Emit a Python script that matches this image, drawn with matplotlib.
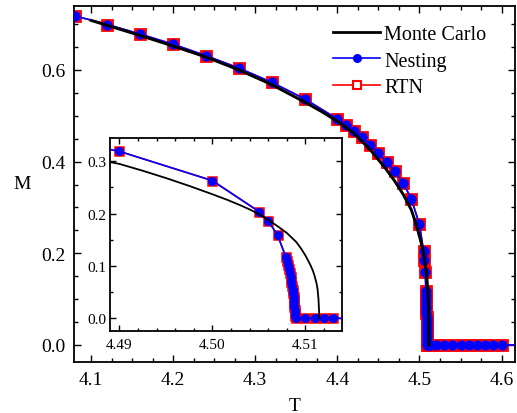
import matplotlib
matplotlib.use("Agg")
import matplotlib.pyplot as plt
from matplotlib.lines import Line2D
from matplotlib.ticker import MultipleLocator

plt.rcParams["font.family"] = ["Liberation Serif", "DejaVu Serif"]

# ---------------------------------------------------------------------------
# Data
# ---------------------------------------------------------------------------
# Monte Carlo magnetisation
mc_t = [4.10, 4.12, 4.16, 4.20, 4.24, 4.28, 4.32, 4.36, 4.38, 4.40, 4.42,
        4.44, 4.46, 4.47, 4.48, 4.49, 4.4925, 4.495, 4.4975, 4.50, 4.5015,
        4.503, 4.504, 4.505, 4.506, 4.507, 4.508, 4.509, 4.5095, 4.510,
        4.5105, 4.5108, 4.511, 4.5112, 4.5113, 4.5114, 4.5115]
mc_m = [0.708, 0.697, 0.675, 0.652, 0.628, 0.600, 0.568, 0.530, 0.510, 0.488,
        0.462, 0.426, 0.382, 0.357, 0.329, 0.295, 0.282, 0.268, 0.253, 0.237,
        0.227, 0.216, 0.208, 0.199, 0.188, 0.176, 0.163, 0.146, 0.134, 0.120,
        0.103, 0.091, 0.080, 0.066, 0.056, 0.037, 0.0]

# Nesting
nest_t = [4.08, 4.12, 4.16, 4.20, 4.24, 4.28, 4.32, 4.36, 4.40, 4.41, 4.42,
          4.43, 4.44, 4.45, 4.46, 4.47, 4.48, 4.49, 4.50, 4.505, 4.506, 4.507,
          4.5079, 4.5080, 4.5081, 4.5082, 4.5083, 4.5084, 4.5085, 4.5086,
          4.50865, 4.5087, 4.50875, 4.50878, 4.5088, 4.50882, 4.50884,
          4.50886, 4.50888, 4.509, 4.510, 4.511, 4.512, 4.513, 4.52, 4.53,
          4.54, 4.55, 4.56, 4.57, 4.58, 4.59, 4.60, 4.63]
nest_m = [0.718, 0.699, 0.678, 0.656, 0.631, 0.604, 0.573, 0.537, 0.493, 0.480,
          0.467, 0.453, 0.437, 0.419, 0.399, 0.379, 0.354, 0.319, 0.263, 0.204,
          0.186, 0.159, 0.117, 0.110, 0.102, 0.094, 0.086, 0.078, 0.070, 0.062,
          0.055, 0.048, 0.041, 0.034, 0.028, 0.022, 0.016, 0.010, 0.005, 0.0,
          0.0, 0.0, 0.0, 0.0, 0.0, 0.0, 0.0, 0.0, 0.0, 0.0, 0.0, 0.0, 0.0, 0.0]

# RTN sits under the nesting points everywhere in the picture
rtn_t = list(nest_t)
rtn_m = list(nest_m)

labels = ["Monte Carlo", "Nesting", "RTN"]


def style_axes(a, major_len, minor_len, size, pad):
    a.tick_params(which="both", direction="in", top=True, right=True,
                  width=1.0, labelsize=size, pad=pad)
    a.tick_params(which="major", length=major_len)
    a.tick_params(which="minor", length=minor_len)
    for s in a.spines.values():
        s.set_linewidth(1.3)


def draw_series(a, lw_mc, lw, ms_sq, ms_o, mew):
    a.plot(rtn_t, rtn_m, color="red", lw=lw, marker="s", ms=ms_sq,
           mfc="white", mec="red", mew=mew, zorder=2)
    a.plot(nest_t, nest_m, color="blue", lw=lw, marker="o", ms=ms_o,
           mfc="blue", mec="blue", mew=0.5, zorder=3)
    a.plot(mc_t, mc_m, color="black", lw=lw_mc, zorder=4)


# ---------------------------------------------------------------------------
# Main axes
# ---------------------------------------------------------------------------
fig = plt.figure(figsize=(5.17, 4.14), dpi=100)
ax = fig.add_axes([0.1431, 0.1225, 0.8530, 0.8613])
draw_series(ax, 2.1, 1.2, 6.8, 6.8, 2.0)
ax.set_xlim(4.0793, 4.6163)
ax.set_ylim(-0.0377, 0.740)
ax.xaxis.set_major_locator(MultipleLocator(0.1))
ax.xaxis.set_minor_locator(MultipleLocator(0.025))
ax.yaxis.set_major_locator(MultipleLocator(0.2))
ax.yaxis.set_minor_locator(MultipleLocator(0.05))
style_axes(ax, 5, 3, 14, 6.5)
ax.tick_params(axis="y", pad=6)

ax.set_xlabel("T", fontsize=14)
ax.xaxis.set_label_coords(0.501, -0.121)
ax.xaxis.label.set_va("center")
ax.set_ylabel("M", fontsize=14, rotation=0)
ax.yaxis.set_label_coords(-0.118, 0.5)
ax.yaxis.label.set_va("center")
ax.yaxis.label.set_ha("center")

handles = [
    Line2D([], [], color="black", lw=2.0),
    Line2D([], [], color="blue", lw=1.2, marker="o", ms=5.5, mfc="blue", mec="blue"),
    Line2D([], [], color="red", lw=1.2, marker="s", ms=5.5, mfc="white", mec="red", mew=1.5),
]
ax.legend(handles, labels, loc="upper left", bbox_to_anchor=(0.644, 0.938),
          bbox_transform=fig.transFigure, frameon=False, fontsize=14.5,
          handlelength=2.35, handletextpad=0.2, borderpad=0, labelspacing=0.38,
          borderaxespad=0)

# ---------------------------------------------------------------------------
# Inset near the transition
# ---------------------------------------------------------------------------
ins = fig.add_axes([0.2128, 0.1988, 0.4482, 0.4655])
draw_series(ins, 1.3, 1.2, 6.3, 6, 1.8)
ins.set_xlim(4.489, 4.5139)
ins.set_ylim(-0.0237, 0.3445)
ins.xaxis.set_major_locator(MultipleLocator(0.01))
ins.xaxis.set_minor_locator(MultipleLocator(0.002))
ins.yaxis.set_major_locator(MultipleLocator(0.1))
ins.yaxis.set_minor_locator(MultipleLocator(0.05))
ins.xaxis.set_major_formatter(lambda v, p: f"{v:.2f}")
ins.yaxis.set_major_formatter(lambda v, p: f"{v:.1f}")
style_axes(ins, 4, 2.5, 11, 5.5)
ins.tick_params(axis="y", pad=2.5)

fig.savefig("out.png", dpi=100)
